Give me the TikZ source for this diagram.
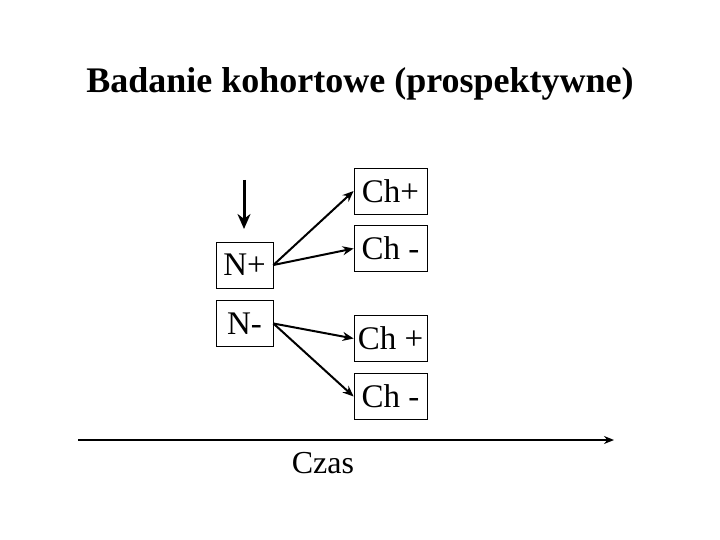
\documentclass[tikz,border=0pt]{standalone}
\usepackage{fontspec}
\setmainfont{Liberation Serif}
\usetikzlibrary{arrows.meta,positioning}

\begin{document}
\begin{tikzpicture}[x=1pt,y=1pt]
\useasboundingbox (0,0) rectangle (720,-540);
\tikzset{
  box/.style={draw, line width=0.8pt, minimum height=46pt, inner sep=0pt, font=\fontsize{33}{36}\selectfont},
  wide/.style={box, minimum width=73pt},
  narrow/.style={box, minimum width=57pt},
  link/.style={-{Stealth[length=11pt,width=9pt]}, line width=2pt}
}
\node (title) at (360,-84) [font=\fontsize{36}{40}\selectfont\bfseries] {Badanie kohortowe (prospektywne)};

\node (np) at (244.5,-265) [narrow] {N+};
\node (nm) at (244.5,-323.5) [narrow] {N-};
\node (c1) at (390.5,-191) [wide] {Ch+};
\node (c2) at (390.5,-248.5) [wide] {Ch -};
\node (c3) at (390.5,-338.5) [wide] {Ch +};
\node (c4) at (390.5,-396.5) [wide] {Ch -};

\coordinate (top) at (244,-180);
\coordinate (bot) at (244,-229);
\draw[-{Stealth[length=15pt,width=13pt]}, line width=3pt] (top) -- (bot);

\draw[link] (np.east) -- (c1.west);
\draw[link] (np.east) -- (c2.west);
\draw[link] (nm.east) -- (c3.west);
\draw[link] (nm.east) -- (c4.west);

\coordinate (t0) at (78,-440);
\coordinate (t1) at (614,-440);
\draw[-{Stealth[length=10pt,width=8pt]}, line width=2pt] (t0) -- (t1);
\node (czas) at (323,-463) [font=\fontsize{32}{34}\selectfont] {Czas};
\end{tikzpicture}
\end{document}
